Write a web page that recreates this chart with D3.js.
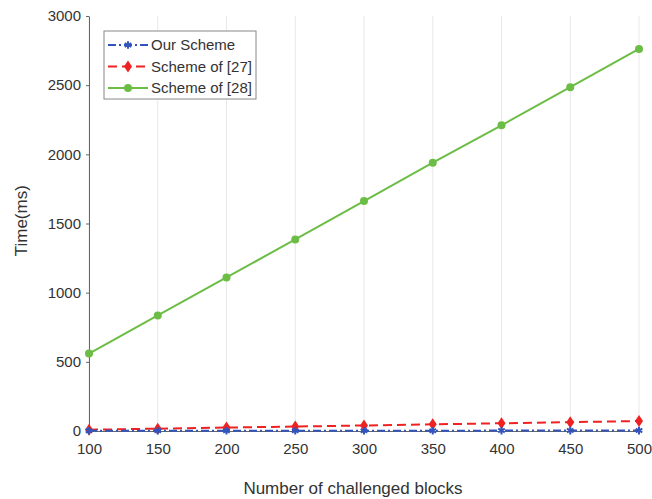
<!DOCTYPE html>
<html>
<head>
<meta charset="utf-8">
<script src="https://cdn.jsdelivr.net/npm/d3@7"></script>
<style>
  body { margin: 0; background: #fff; }
  text { font-family: "Liberation Sans", Arial, sans-serif; fill: #333; }
</style>
</head>
<body>
<div id="chart"></div>
<script>
var blocks = [100, 150, 200, 250, 300, 350, 400, 450, 500];
var ourScheme = [2, 2, 2, 2, 2, 2, 3, 3, 3];
var scheme27 = [9, 17, 25, 32, 40, 48, 56, 64, 72];
var scheme28 = [560, 835, 1110, 1385, 1662, 1940, 2210, 2485, 2762];
var yTicks = [0, 500, 1000, 1500, 2000, 2500, 3000];
var seriesNames = ["Our Scheme", "Scheme of [27]", "Scheme of [28]"];

var width = 652, height = 499;
var margin = {left: 89, right: 13, top: 16, bottom: 68};

var svg = d3.select("#chart").append("svg")
    .attr("width", width)
    .attr("height", height);

var x = d3.scaleLinear().domain([100, 500]).range([margin.left, width - margin.right]);
var y = d3.scaleLinear().domain([0, 3000]).range([height - margin.bottom, margin.top]);

// vertical grid
svg.append("g").selectAll("line")
    .data(blocks)
    .enter().append("line")
    .attr("x1", function(d) { return x(d); })
    .attr("x2", function(d) { return x(d); })
    .attr("y1", y(0))
    .attr("y2", y(3000))
    .attr("stroke", "#e8e8e8")
    .attr("stroke-width", 1);

// axes
var yAxis = svg.append("g")
    .attr("transform", "translate(" + margin.left + ",0)")
    .call(d3.axisLeft(y).tickValues(yTicks).tickFormat(d3.format("d"))
        .tickSize(3).tickPadding(5).tickSizeOuter(0));
var xAxis = svg.append("g")
    .attr("transform", "translate(0," + y(0) + ")")
    .call(d3.axisBottom(x).tickValues(blocks).tickFormat(d3.format("d"))
        .tickSize(0).tickPadding(12).tickSizeOuter(0));

[yAxis, xAxis].forEach(function(a) {
    a.selectAll("path, line").attr("stroke", "#666");
    a.selectAll("text").attr("font-size", 15).style("font-family", "'Liberation Sans', Arial, sans-serif").attr("fill", "#333");
});

svg.append("text")
    .attr("x", 353)
    .attr("y", 494)
    .attr("text-anchor", "middle")
    .attr("font-size", 17)
    .text("Number of challenged blocks");

svg.append("text")
    .attr("transform", "translate(27," + y(1520) + ") rotate(-90)")
    .attr("text-anchor", "middle")
    .attr("font-size", 17)
    .text("Time(ms)");

var line = d3.line()
    .x(function(d, i) { return x(blocks[i]); })
    .y(function(d) { return y(d); });

var series = [
    {values: ourScheme, color: "#3355bb", dash: "8,3,2,3", marker: "star"},
    {values: scheme27, color: "#ee2222", dash: "9,5", marker: "diamond"},
    {values: scheme28, color: "#6cbd45", dash: null, marker: "circle"}
];

function drawMarker(g, type, color) {
    if (type === "circle") {
        g.append("circle").attr("r", 4).attr("fill", color);
    } else if (type === "diamond") {
        g.append("path").attr("d", "M0,-6L4,0L0,6L-4,0Z").attr("fill", color);
    } else {
        g.append("path").attr("d", d3.symbol().type(d3.symbolAsterisk).size(40)())
            .attr("stroke", color).attr("stroke-width", 2).attr("fill", "none");
    }
}

series.slice().reverse().forEach(function(s) {
    svg.append("path")
        .attr("d", line(s.values))
        .attr("fill", "none")
        .attr("stroke", s.color)
        .attr("stroke-width", 2)
        .attr("stroke-dasharray", s.dash);
    s.values.forEach(function(v, i) {
        var g = svg.append("g").attr("transform", "translate(" + x(blocks[i]) + "," + y(v) + ")");
        drawMarker(g, s.marker, s.color);
    });
});

// legend
var legend = svg.append("g").attr("transform", "translate(104,31)");
legend.append("rect")
    .attr("width", 152).attr("height", 68)
    .attr("fill", "#fff").attr("stroke", "#888").attr("stroke-width", 1);
series.forEach(function(s, i) {
    var yy = 14 + i * 21.5;
    legend.append("line")
        .attr("x1", 4).attr("x2", 44).attr("y1", yy).attr("y2", yy)
        .attr("stroke", s.color).attr("stroke-width", 2)
        .attr("stroke-dasharray", s.dash);
    var g = legend.append("g").attr("transform", "translate(24," + yy + ")");
    drawMarker(g, s.marker, s.color);
    legend.append("text")
        .attr("x", 47).attr("y", yy + 5)
        .attr("font-size", 15)
        .text(seriesNames[i]);
});
</script>
</body>
</html>
